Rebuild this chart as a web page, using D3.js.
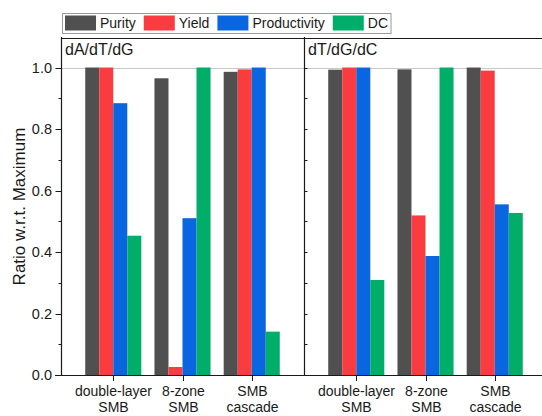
<!DOCTYPE html>
<html>
<head>
<meta charset="utf-8">
<script src="https://cdn.jsdelivr.net/npm/d3@7"></script>
<style>
  html, body { margin: 0; padding: 0; background: #fff; }
  svg { display: block; }
  text { font-family: Arial, "Liberation Sans", sans-serif; fill: #1a1a1a; }
</style>
</head>
<body>
<svg id="chart" width="542" height="416"></svg>
<script>
// Methods compared in each panel (two-line labels)
const categories = [["double-layer", "SMB"], ["8-zone", "SMB"], ["SMB", "cascade"]];
const seriesNames = ["Purity", "Yield", "Productivity", "DC"];
const seriesColors = ["#505050", "#fa3c41", "#0a66e0", "#00ad69"];
const panelTitles = ["dA/dT/dG", "dT/dG/dC"];

// Ratio w.r.t. maximum, [category][series], one array per panel
const panelA = [
  [1.000, 1.000, 0.884, 0.453],
  [0.965, 0.026, 0.510, 1.000],
  [0.986, 0.994, 1.000, 0.141]
];
const panelB = [
  [0.993, 1.000, 1.000, 0.309],
  [0.994, 0.519, 0.387, 1.000],
  [1.000, 0.990, 0.555, 0.527]
];
const yMajorTicks = [0, 0.2, 0.4, 0.6, 0.8, 1.0];
const yMinorTicks = [0.1, 0.3, 0.5, 0.7, 0.9];

const svg = d3.select("#chart");
const W = 542;
const plotTop = 38, plotBottom = 375;
const axisX = 61, panelW = 243;
const panels = [panelA, panelB];

const y = d3.scaleLinear().domain([0, 1.096]).range([plotBottom, plotTop]);

// light reference line at 1.0
svg.append("line")
  .attr("x1", axisX).attr("x2", W)
  .attr("y1", Math.round(y(1)) + 0.5).attr("y2", Math.round(y(1)) + 0.5)
  .attr("stroke", "#c8c8c8").attr("stroke-width", 1);

panels.forEach((data, p) => {
  const x0 = axisX + p * panelW;
  const x = d3.scaleBand().domain(d3.range(categories.length))
    .range([x0, x0 + panelW]).paddingInner(0.19).paddingOuter(0.35);
  const xs = d3.scaleBand().domain(d3.range(seriesNames.length))
    .range([0, x.bandwidth()]);

  const g = svg.append("g");
  data.forEach((vals, ci) => {
    g.selectAll(null).data(vals).enter().append("rect")
      .attr("x", (d, si) => x(ci) + xs(si))
      .attr("width", xs.bandwidth())
      .attr("y", d => y(d))
      .attr("height", d => y(0) - y(d))
      .attr("fill", (d, si) => seriesColors[si]);
  });

  // category ticks and labels
  const xAxis = svg.append("g");
  categories.forEach((lab, ci) => {
    const cx = Math.round(x(ci) + x.bandwidth() / 2) + 0.5;
    xAxis.append("line").attr("x1", cx).attr("x2", cx)
      .attr("y1", plotBottom).attr("y2", plotBottom + 6)
      .attr("stroke", "#1a1a1a").attr("stroke-width", 1);
    const t = xAxis.append("text").attr("text-anchor", "middle")
      .attr("font-size", 14);
    t.append("tspan").attr("x", cx).attr("y", 396).text(lab[0]);
    t.append("tspan").attr("x", cx).attr("y", 412).text(lab[1]);
  });

  // panel title
  svg.append("text").attr("x", x0 + 4).attr("y", 55)
    .attr("font-size", 16).text(panelTitles[p]);

  // panel vertical axis
  const vx = x0 + 0.5;
  svg.append("line").attr("x1", vx).attr("x2", vx)
    .attr("y1", plotTop - 1).attr("y2", plotBottom)
    .attr("stroke", "#1a1a1a").attr("stroke-width", 1.2);
  const dir = p === 0 ? -1 : 1;
  yMajorTicks.forEach(v => {
    svg.append("line").attr("x1", vx).attr("x2", vx + dir * (p === 0 ? 6 : 3))
      .attr("y1", Math.round(y(v)) + 0.5).attr("y2", Math.round(y(v)) + 0.5)
      .attr("stroke", "#1a1a1a").attr("stroke-width", 1);
  });
  yMinorTicks.forEach(v => {
    svg.append("line").attr("x1", vx).attr("x2", vx + dir * 3)
      .attr("y1", Math.round(y(v)) + 0.5).attr("y2", Math.round(y(v)) + 0.5)
      .attr("stroke", "#1a1a1a").attr("stroke-width", 1);
  });
});

// y tick labels on the left axis
svg.append("g").selectAll("text").data(yMajorTicks).enter().append("text")
  .attr("x", 52).attr("y", d => y(d) + 5)
  .attr("text-anchor", "end").attr("font-size", 14.5)
  .text(d3.format(".1f"));

// frame: top line and baseline
svg.append("line").attr("x1", axisX).attr("x2", W)
  .attr("y1", plotTop + 0.5).attr("y2", plotTop + 0.5)
  .attr("stroke", "#1a1a1a").attr("stroke-width", 1.2);
svg.append("line").attr("x1", axisX - 6).attr("x2", W)
  .attr("y1", plotBottom + 0.5).attr("y2", plotBottom + 0.5)
  .attr("stroke", "#1a1a1a").attr("stroke-width", 1.2);

// y axis title
svg.append("text")
  .attr("transform", `translate(25,${(plotTop + plotBottom) / 2}) rotate(-90)`)
  .attr("text-anchor", "middle").attr("font-size", 17)
  .text("Ratio w.r.t. Maximum");

// legend
const legend = svg.append("g");
const legendBox = legend.append("rect")
  .attr("x", 62.5).attr("y", 13.5).attr("height", 20)
  .attr("fill", "#fff").attr("stroke", "#999").attr("stroke-width", 1);
let lx = 65;
seriesNames.forEach((name, i) => {
  legend.append("rect").attr("x", lx).attr("y", 15.5)
    .attr("width", 31).attr("height", 15).attr("fill", seriesColors[i]);
  const t = legend.append("text").attr("x", lx + 35).attr("y", 28)
    .attr("font-size", 14).text(name);
  lx += 35 + t.node().getComputedTextLength() + 8;
});
legendBox.attr("width", lx - 8 + 3 - 62.5);
</script>
</body>
</html>
